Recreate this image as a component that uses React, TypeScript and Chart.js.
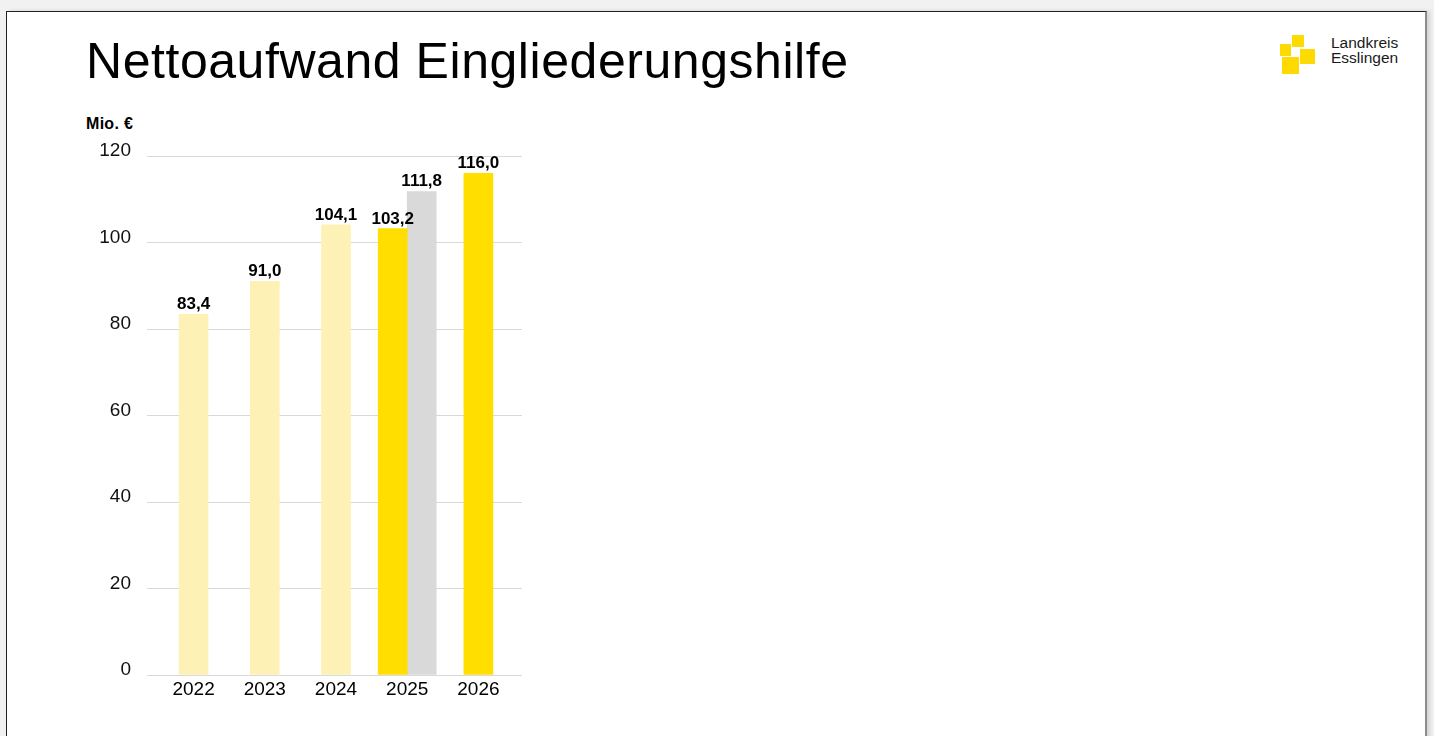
import React, { useEffect, useRef } from "react";
import { Chart, registerables } from "chart.js";

Chart.register(...registerables);

const categories = ["2022", "2023", "2024", "2025", "2026"];
const mainValues: (number | null)[] = [83.4, 91.0, 104.1, 103.2, 116.0];
const planValues: (number | null)[] = [null, null, null, 111.8, null];
const mainColors = ["#FEF1B5", "#FEF1B5", "#FEF1B5", "#FFDE00", "#FFDE00"];
const planColor = "#D9D9D9";
const yTicks = [0, 20, 40, 60, 80, 100, 120];

const FONT = "'Liberation Sans', Arial, Helvetica, sans-serif";

const valueLabels = {
  id: "valueLabels",
  afterDatasetsDraw(chart: any) {
    const ctx = chart.ctx;
    ctx.save();
    ctx.font = `bold 17px ${FONT}`;
    ctx.fillStyle = "#000";
    ctx.textAlign = "center";
    ctx.textBaseline = "alphabetic";
    chart.data.datasets.forEach((ds: any, di: number) => {
      const meta = chart.getDatasetMeta(di);
      meta.data.forEach((el: any, i: number) => {
        const v = ds.data[i];
        if (v === null || v === undefined) return;
        ctx.fillText(v.toFixed(1).replace(".", ","), el.x, el.y - 5);
      });
    });
    ctx.restore();
  },
};

function BarChart() {
  const ref = useRef<HTMLCanvasElement>(null);
  useEffect(() => {
    if (!ref.current) return;
    const chart = new Chart(ref.current, {
      type: "bar",
      data: {
        labels: categories,
        datasets: [
          {
            data: mainValues,
            backgroundColor: mainColors,
            barThickness: 29,
            borderWidth: 0,
          },
          {
            data: planValues,
            backgroundColor: planColor,
            barThickness: 29,
            borderWidth: 0,
          },
        ],
      },
      options: {
        animation: false,
        responsive: false,
        devicePixelRatio: 1,
        skipNull: true,
        layout: { padding: { left: 0, top: 156, right: 78, bottom: 21 } },
        plugins: {
          legend: { display: false },
          tooltip: { enabled: false },
          title: { display: false },
        },
        scales: {
          x: {
            offset: true,
            grid: { display: false, drawTicks: false },
            border: { display: false },
            ticks: {
              color: "#000",
              font: { family: FONT, size: 19 },
              padding: 3,
              maxRotation: 0,
            },
            afterFit(s: any) {
              s.height = 40;
            },
          },
          y: {
            min: 0,
            max: 120,
            afterBuildTicks(s: any) {
              s.ticks = yTicks.map((v) => ({ value: v }));
            },
            grid: {
              color: "#D9D9D9",
              lineWidth: 1,
              drawTicks: true,
              tickLength: 11,
            },
            border: { display: false },
            ticks: {
              color: "#111",
              font: { family: FONT, size: 19 },
              padding: 16,
              labelOffset: -5,
            },
            afterFit(s: any) {
              s.width = 158;
            },
          },
          y2: {
            position: "right",
            min: 0,
            max: 120,
            afterBuildTicks(s: any) {
              s.ticks = yTicks.map((v) => ({ value: v }));
            },
            grid: {
              color: "#D9D9D9",
              lineWidth: 1,
              drawOnChartArea: false,
              drawTicks: true,
              tickLength: 8,
            },
            border: { display: false },
            ticks: { display: false },
            afterFit(s: any) {
              s.width = 8;
            },
          },
        },
      } as any,
      plugins: [valueLabels],
    });
    return () => chart.destroy();
  }, []);
  return (
    <canvas
      ref={ref}
      width={600}
      height={736}
      style={{ position: "absolute", left: 0, top: 0, width: 600, height: 736 }}
    />
  );
}

export default function App() {
  const sq = (l: number, t: number, w: number, h: number) => (
    <div
      style={{
        position: "absolute",
        left: l,
        top: t,
        width: w,
        height: h,
        background: "#FFDA00",
      }}
    />
  );
  return (
    <div
      style={{
        position: "fixed",
        left: 0,
        top: 0,
        width: 1434,
        height: 736,
        overflow: "hidden",
        background: "#F1F1F1",
        fontFamily: FONT,
      }}
    >
      <div
        style={{
          position: "absolute",
          left: 6,
          top: 11,
          width: 1418,
          height: 800,
          background: "#FFFFFF",
          borderTop: "1px solid #222",
          borderLeft: "1px solid #222",
          borderRight: "2px solid #8C8C8C",
          boxShadow: "3px 0 4px rgba(0,0,0,0.12)",
        }}
      />
      <div
        style={{
          position: "absolute",
          left: 86,
          top: 36,
          fontSize: 50,
          lineHeight: "50px",
          letterSpacing: "0.55px",
          color: "#000",
          whiteSpace: "nowrap",
        }}
      >
        Nettoaufwand Eingliederungshilfe
      </div>
      <div
        style={{
          position: "absolute",
          left: 86,
          top: 116,
          fontSize: 16,
          lineHeight: "16px",
          fontWeight: "bold",
          color: "#000",
          whiteSpace: "nowrap",
          letterSpacing: "0.3px",
        }}
      >
        Mio. €
      </div>
      {sq(1292, 35, 12, 12)}
      {sq(1280, 44, 11, 12)}
      {sq(1300, 49, 15, 15)}
      {sq(1282, 57, 17, 17)}
      <div
        style={{
          position: "absolute",
          left: 1331,
          top: 36,
          fontSize: 15.5,
          lineHeight: "14.5px",
          color: "#1a1a1a",
          whiteSpace: "nowrap",
        }}
      >
        Landkreis
        <br />
        Esslingen
      </div>
      <BarChart />
    </div>
  );
}
